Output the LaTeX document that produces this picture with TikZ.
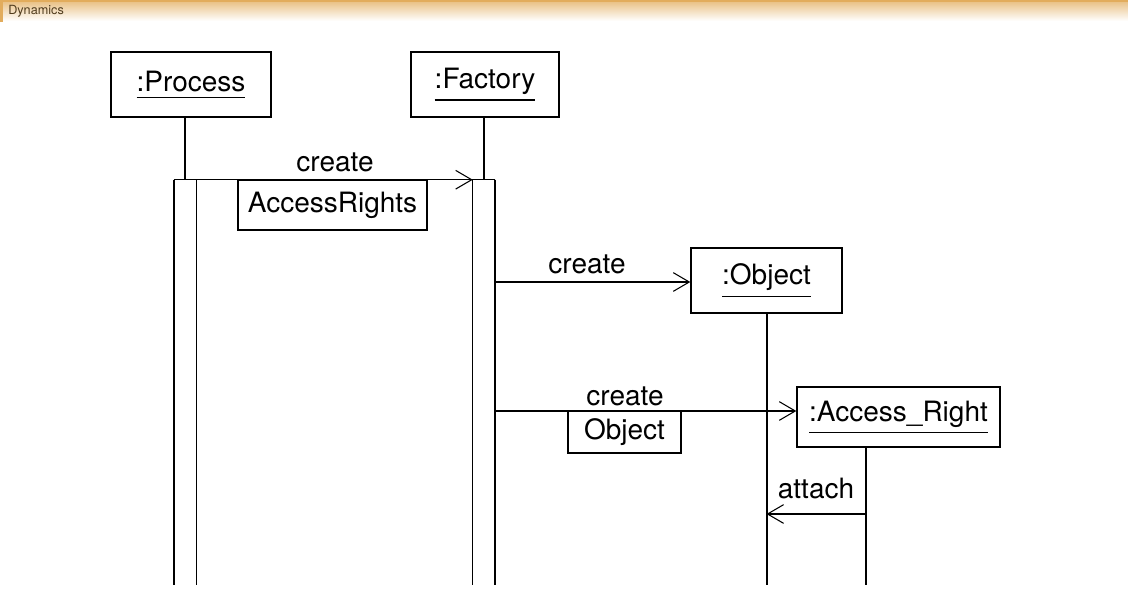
\documentclass[tikz,border=0pt]{standalone}
\usepackage{fontspec}
\setmainfont{TeX Gyre Heros}
\usetikzlibrary{arrows.meta}

\definecolor{balken}{RGB}{226,172,92}
\definecolor{balkentext}{RGB}{80,60,30}

\newcommand{\unterstrich}[1]{\setbox0\hbox{#1}\vtop{\box0\kern3.5pt\hrule height 1.1pt}}

\begin{document}
\begin{tikzpicture}[x=0.75pt,y=-0.75pt,
    objekt/.style={
      rectangle,
      draw,
      line width=1pt,
      inner sep=0pt,
      font=\fontsize{21}{25}\selectfont},
    parameter/.style={
      rectangle,
      draw,
      line width=0.8pt,
      inner sep=0pt,
      font=\fontsize{21}{25}\selectfont},
    beschriftung/.style={
      inner sep=0pt,
      font=\fontsize{21}{25}\selectfont},
    aktivierung/.style={
      rectangle,
      inner sep=0pt,
      minimum width=16.5pt,
      minimum height=303.75pt},
    lebenslinie/.style={line width=1.5pt},
    nachricht/.style={-{Straight Barb[length=12pt,width=14pt]}, line width=0.8pt}
    ]

  \useasboundingbox (0,0) rectangle (1128,600);

  % Titelleiste
  \shade[top color=balken!80, bottom color=white] (0,0) rectangle (1128,21);
  \draw[balken, line width=1.2pt] (0,0.8) -- (1128,0.8);
  \draw[balken, line width=2pt] (1.5,0) -- (1.5,22);
  \node[anchor=west, inner sep=0pt, text=balkentext, font=\fontsize{9.5}{11}\selectfont] (titel) at (8,11) {Dynamics};

  \coordinate (ende) at (0,585);

  \node at (191,84.5) (process) [objekt, minimum width=120pt, minimum height=48.75pt] {\unterstrich{:Process}};
  \node at (485,84.5) (factory) [objekt, minimum width=111pt, minimum height=48.75pt] {\unterstrich{:Factory}};
  \node at (766.5,280.5) (object) [objekt, minimum width=113.25pt, minimum height=48.75pt] {\unterstrich{:Object}};
  \node at (898.5,417) (accright) [objekt, minimum width=152.25pt, minimum height=45pt] {\unterstrich{:Access\_Right}};

  \node at (185,382.5) (pact) [aktivierung] {};
  \node at (484,382.5) (fact) [aktivierung] {};
  \coordinate (arlinie) at (866,0);

  % Lebenslinien
  \draw[lebenslinie] (pact.north |- process.south) -- (pact.north);
  \draw[lebenslinie] (fact.north |- factory.south) -- (fact.north);
  \draw[lebenslinie] (object.south) -- (object.south |- ende);
  \draw[lebenslinie] (arlinie |- accright.south) -- (arlinie |- ende);
  \draw[line width=1pt] (pact.north west) -- (pact.north east) -- (pact.south east);
  \draw[line width=1.6pt] (pact.north west) -- (pact.south west);
  \draw[line width=1pt] (fact.north east) -- (fact.north west) -- (fact.south west);
  \draw[line width=1.6pt] (fact.north east) -- (fact.south east);

  % Nachrichten
  \coordinate (m2) at (0,282);
  \coordinate (m3) at (0,411);
  \coordinate (m4) at (0,514);
  \path [nachricht] (pact.north east) edge [] (fact.north west);
  \path [nachricht] (fact.east |- m2) edge [] (object.west |- m2);
  \path [nachricht] (fact.east |- m3) edge [] (accright.west |- m3);
  \path [nachricht] (arlinie |- m4) edge [] (object.south |- m4);

  \node at (335,162) (create1) [beschriftung] {create};
  \node at (332.5,205) (param1) [parameter, minimum width=141.75pt, minimum height=37.5pt] {AccessRights};
  \node at (587,264) (create2) [beschriftung] {create};
  \node at (625,396) (create3) [beschriftung] {create};
  \node at (624.5,432) (param2) [parameter, minimum width=84.75pt, minimum height=31.5pt] {Object};
  \node at (816,488) (attach) [beschriftung] {attach};

\end{tikzpicture}
\end{document}
